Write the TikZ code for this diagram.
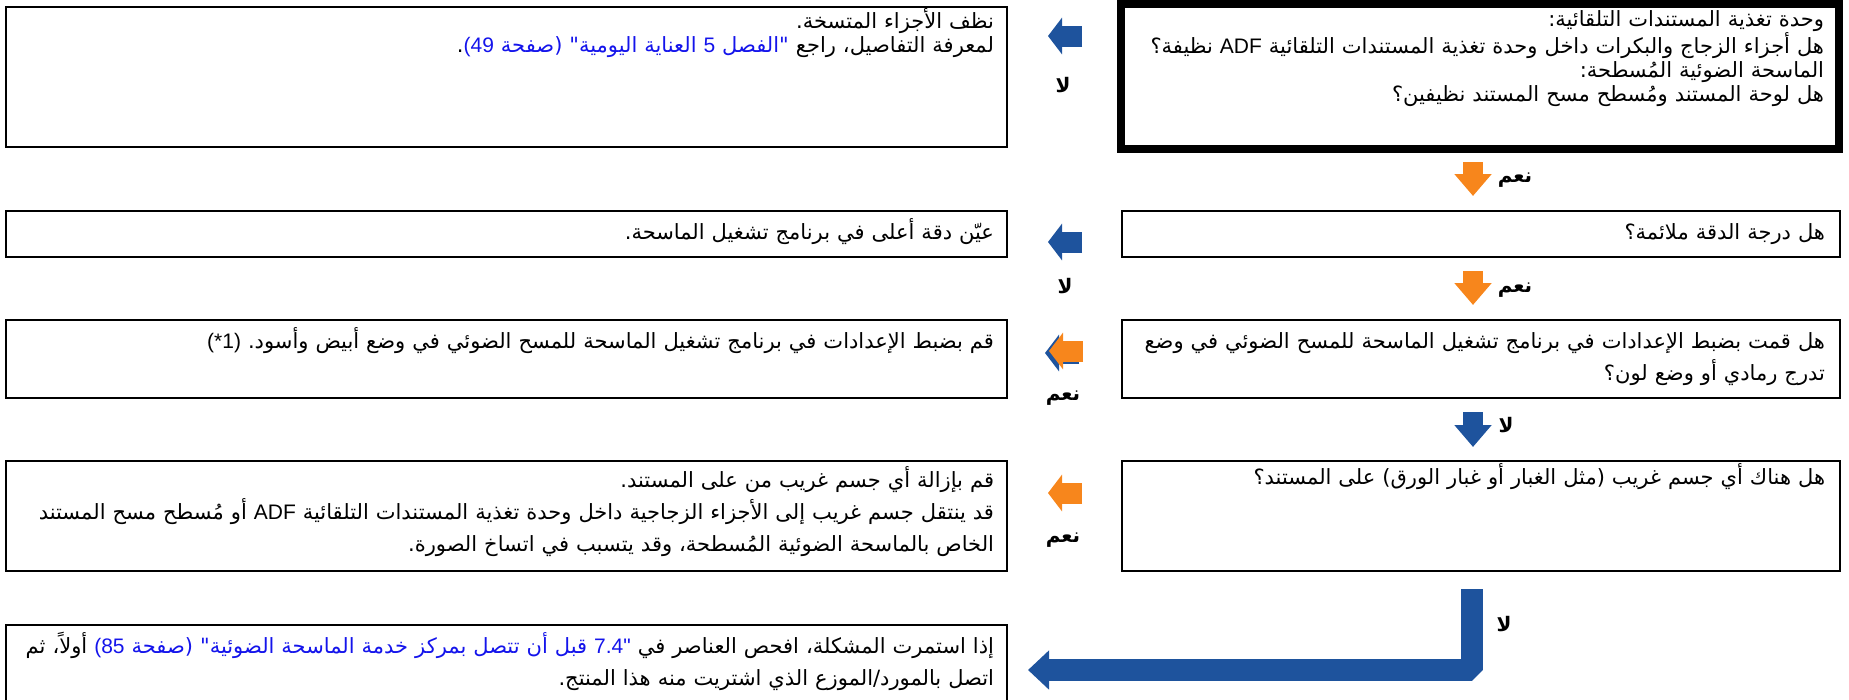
\documentclass[tikz,border=0pt]{standalone}
\usepackage{fontspec}
\setmainfont{Liberation Sans}
\newfontfamily\arabicfont[Script=Arabic]{DejaVu Sans}
\newfontfamily\latinfont{Liberation Sans}
\TeXXeTstate=1
\usetikzlibrary{arrows.meta}
\definecolor{arrblue}{RGB}{30,83,157}
\definecolor{arrorange}{RGB}{247,134,28}
\definecolor{linkblue}{RGB}{20,20,235}
\newcommand{\arline}[1]{\leavevmode\hbox{\beginR #1\endR}}
\newcommand{\lat}[1]{\hbox{\latinfont #1}}
% Verweis: farbige Box ausserhalb der umgedrehten Abschnitte
\newcommand{\lnk}[1]{\textcolor{linkblue}{\arline{#1}}}

\begin{document}
\begin{tikzpicture}[x=1pt, y=-1pt,
        qbox/.style={
            rectangle,
            draw,
            line width=2.5pt,
            anchor=north west,
            outer sep=0pt,
            inner xsep=15pt,
            inner ysep=0pt,
            text width=688pt,
            minimum width=718pt,
            align=right,
            font=\arabicfont\fontsize{21}{24}\selectfont
        },
        abox/.style={
            qbox,
            inner xsep=13pt,
            text width=975pt,
            minimum width=1001pt
        },
        wide/.style={font=\arabicfont\fontsize{21}{32}\selectfont},
        lbl/.style={inner sep=0pt, font=\arabicfont\bfseries\fontsize{20}{22}\selectfont},
        leftarrow/.style={line width=21pt, -{Triangle[length=14pt,width=36pt]}},
        downarrow/.style={line width=20pt, -{Triangle[length=22pt,width=36pt]}}
    ]
    \useasboundingbox (0,0) rectangle (1849,699);

    % Fragen (rechts)
    \node[qbox, line width=8pt, text height=22pt, text depth=123pt] (q1) at (1121,4) {%
        \arline{وحدة تغذية المستندات التلقائية:}\\
        \arline{هل أجزاء الزجاج والبكرات داخل وحدة تغذية المستندات التلقائية \lat{ADF} نظيفة؟}\\
        \arline{الماسحة الضوئية المُسطحة:}\\
        \arline{هل لوحة المستند ومُسطح مسح المستند نظيفين؟}};
    \node[qbox, text height=28pt, text depth=18pt] (q2) at (1122,211) {\arline{هل درجة الدقة ملائمة؟}};
    \node[qbox, wide, text height=28pt, text depth=50pt] (q3) at (1122,320) {%
        \arline{هل قمت بضبط الإعدادات في برنامج تشغيل الماسحة للمسح الضوئي في وضع}\\
        \arline{تدرج رمادي أو وضع لون؟}};
    \node[qbox, text height=23pt, text depth=87pt] (q4) at (1122,461) {\arline{هل هناك أي جسم غريب (مثل الغبار أو غبار الورق) على المستند؟}};

    % Antworten (links)
    \node[abox, text height=21pt, text depth=119pt] (a1) at (6,7) {%
        \arline{نظف الأجزاء المتسخة.}\\
        \leavevmode\hbox{.\lnk{"الفصل \lat{5} العناية اليومية" (صفحة \lat{49}\lat{(}} \beginR لمعرفة التفاصيل، راجع\endR}};
    \node[abox, text height=28pt, text depth=18pt] (a2) at (6,211) {\arline{عيّن دقة أعلى في برنامج تشغيل الماسحة.}};
    \node[abox, text height=28pt, text depth=50pt] (a3) at (6,320) {\leavevmode\hbox{\lat{(*1)} \beginR قم بضبط الإعدادات في برنامج تشغيل الماسحة للمسح الضوئي في وضع أبيض وأسود.\endR}};
    \node[abox, wide, text height=26pt, text depth=84pt] (a4) at (6,461) {%
        \arline{قم بإزالة أي جسم غريب من على المستند.}\\
        \arline{قد ينتقل جسم غريب إلى الأجزاء الزجاجية داخل وحدة تغذية المستندات التلقائية \lat{ADF} أو مُسطح مسح المستند}\\
        \arline{الخاص بالماسحة الضوئية المُسطحة، وقد يتسبب في اتساخ الصورة.}};
    \node[abox, wide, text height=28pt, text depth=72pt] (a5) at (6,625) {%
        \leavevmode\hbox{\beginR أولاً، ثم\endR\ \lnk{\lat{"}\lat{7.4} قبل أن تتصل بمركز خدمة الماسحة الضوئية" (صفحة \lat{85}\lat{(}} \beginR إذا استمرت المشكلة، افحص العناصر في\endR}\\
        \arline{اتصل بالمورد/الموزع الذي اشتريت منه هذا المنتج.}};

    % Pfeile
    \coordinate (s1) at (1082,36);  \coordinate (e1) at (1048,36);
    \coordinate (s2) at (1473,162); \coordinate (e2) at (1473,196);
    \coordinate (s3) at (1082,242); \coordinate (e3) at (1048,242);
    \coordinate (s4) at (1473,271); \coordinate (e4) at (1473,305);
    \coordinate (s5) at (1079,353); \coordinate (e5) at (1045,353);
    \coordinate (s6) at (1083,351); \coordinate (e6) at (1049,351);
    \coordinate (s7) at (1473,412); \coordinate (e7) at (1473,447);
    \coordinate (s8) at (1082,493); \coordinate (e8) at (1048,493);
    \coordinate (s9) at (1472,589); \coordinate (e9) at (1028,670);

    \draw[leftarrow, draw=arrblue] (s1) -- (e1);
    \draw[downarrow, draw=arrorange] (s2) -- (e2);
    \draw[leftarrow, draw=arrblue] (s3) -- (e3);
    \draw[downarrow, draw=arrorange] (s4) -- (e4);
    \draw[leftarrow, draw=arrblue] (s5) -- (e5);
    \draw[leftarrow, draw=arrorange] (s6) -- (e6);
    \draw[downarrow, draw=arrblue] (s7) -- (e7);
    \draw[leftarrow, draw=arrorange] (s8) -- (e8);
    \draw[line width=22pt, line join=bevel, draw=arrblue, -{Triangle[length=21pt,width=38pt]}] (s9) |- (e9);

    % Beschriftungen
    \node[lbl] (n1) at (1063,85) {\arline{لا}};
    \node[lbl] (y1) at (1515,180) {\arline{نعم}};
    \node[lbl] (n2) at (1065,286) {\arline{لا}};
    \node[lbl] (y2) at (1515,290) {\arline{نعم}};
    \node[lbl] (y3) at (1063,398) {\arline{نعم}};
    \node[lbl] (n3) at (1506,425) {\arline{لا}};
    \node[lbl] (y4) at (1063,540) {\arline{نعم}};
    \node[lbl] (n4) at (1504,624) {\arline{لا}};
\end{tikzpicture}
\end{document}
